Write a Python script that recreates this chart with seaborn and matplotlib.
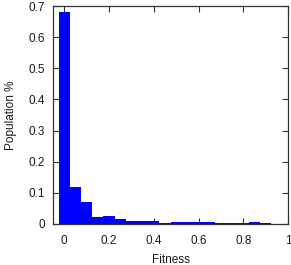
import numpy as np
import pandas as pd
import seaborn as sns
import matplotlib.pyplot as plt

# histogram: bin centres and population fraction
fitness = [0.0, 0.05, 0.1, 0.15, 0.2, 0.25, 0.3, 0.35, 0.4, 0.45,
           0.5, 0.55, 0.6, 0.65, 0.7, 0.75, 0.8, 0.85, 0.9]
population = [0.682, 0.12, 0.071, 0.023, 0.025, 0.015, 0.011, 0.008, 0.008, 0.0045,
              0.0055, 0.0055, 0.0055, 0.0055, 0.0045, 0.0045, 0.0045, 0.007, 0.003]
bin_edges = list(np.round(np.arange(-0.025, 0.95, 0.05), 3))

data = pd.DataFrame({"Fitness": fitness, "Population": population})

sns.set_style("ticks")
plt.rcParams["font.family"] = ["Liberation Sans", "DejaVu Sans"]

fig = plt.figure(figsize=(2.91, 2.65), dpi=100)
ax = fig.add_axes([0.182, 0.155, 0.808, 0.822])

sns.histplot(data=data, x="Fitness", weights="Population", bins=bin_edges,
             color="#0000ff", alpha=1, linewidth=0, ax=ax)

ax.set_xlim(-0.05, 1.0)
ax.set_ylim(0, 0.7)
ax.set_xticks([0, 0.2, 0.4, 0.6, 0.8, 1])
ax.set_xticklabels(["0", "0.2", "0.4", "0.6", "0.8", "1"])
ax.set_yticks([0, 0.1, 0.2, 0.3, 0.4, 0.5, 0.6, 0.7])
ax.set_yticklabels(["0", "0.1", "0.2", "0.3", "0.4", "0.5", "0.6", "0.7"])
ax.tick_params(direction="in", top=True, right=True, length=4, width=0.8,
               color="#333333", labelcolor="#1a1a1a", labelsize=8.5)
ax.tick_params(axis="x", pad=8)
ax.tick_params(axis="y", pad=6)
for s in ax.spines.values():
    s.set_visible(True)
    s.set_color("#333333")
    s.set_linewidth(0.9)
ax.set_xlabel("Fitness", fontsize=8.5, labelpad=5, color="#1a1a1a")
ax.set_ylabel("Population %", fontsize=8.5, labelpad=8, color="#1a1a1a")

fig.savefig("out.png", dpi=100)
